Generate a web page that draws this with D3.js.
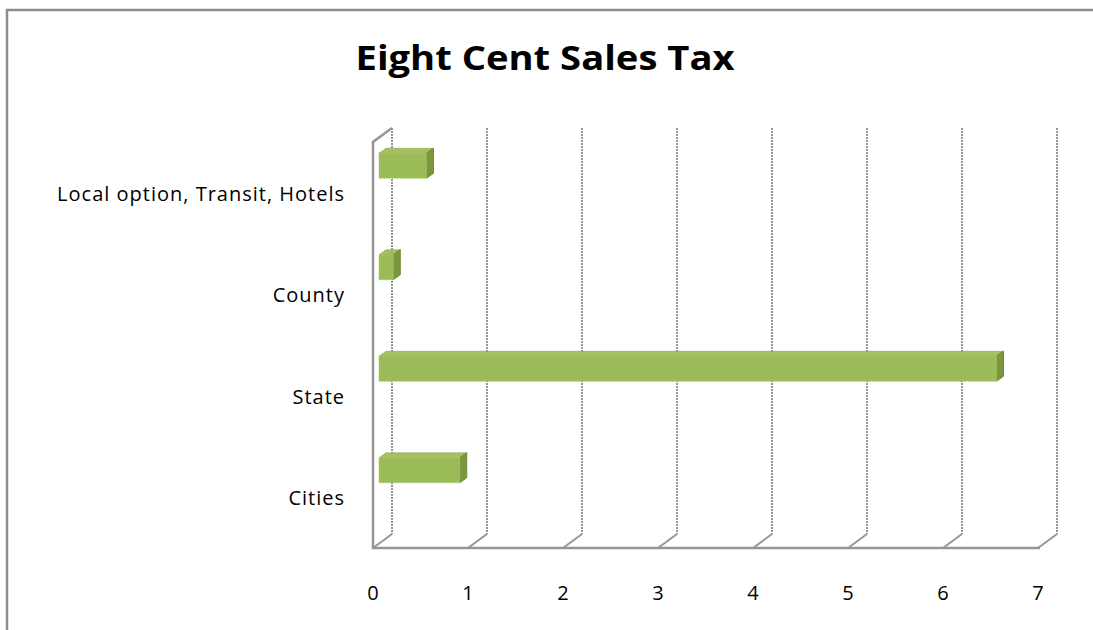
<!DOCTYPE html>
<html>
<head>
<meta charset="utf-8">
<script src="https://cdn.jsdelivr.net/npm/d3@7"></script>
<style>
  body { margin: 0; background: #fff; }
  text { font-family: "Open Sans", Lato, sans-serif; fill: #000; }
</style>
</head>
<body>
<svg id="chart" width="1093" height="630"></svg>
<script>
// data, top to bottom as drawn
var categories = ["Local option, Transit, Hotels", "County", "State", "Cities"];
var values = [0.5, 0.15, 6.5, 0.85];
var ticks = [0, 1, 2, 3, 4, 5, 6, 7];
var title = "Eight Cent Sales Tax";

var svg = d3.select("#chart");

// front plane of the plot
var plotLeft = 373, plotRight = 1038, plotTop = 142, plotBottom = 548;
// depth of the 3d floor / walls
var dx = 19, dy = -14;

var x = d3.scaleLinear().domain([0, 7]).range([plotLeft, plotRight]);
var y = d3.scaleBand().domain(categories).range([plotTop, plotBottom]);

var gray = "#969696";

// outer chart border
svg.append("path")
    .attr("d", "M7,640 L7,10 L1100,10")
    .attr("fill", "none")
    .attr("stroke", "#8e8e8e")
    .attr("stroke-width", 2.5);

// title
svg.append("text")
    .attr("x", 545)
    .attr("y", 70)
    .attr("text-anchor", "middle")
    .attr("textLength", 379)
    .attr("lengthAdjust", "spacingAndGlyphs")
    .style("font-size", "34px")
    .style("font-weight", "bold")
    .text(title);

// back wall gridlines
svg.selectAll(".grid")
    .data(ticks)
  .enter().append("line")
    .attr("class", "grid")
    .attr("x1", function(d) { return x(d) + dx; })
    .attr("x2", function(d) { return x(d) + dx; })
    .attr("y1", plotTop + dy)
    .attr("y2", plotBottom + dy)
    .attr("stroke", gray)
    .attr("stroke-width", 2)
    .attr("stroke-dasharray", "2,1");

// floor diagonals
svg.selectAll(".floor")
    .data(ticks)
  .enter().append("line")
    .attr("class", "floor")
    .attr("x1", function(d) { return x(d); })
    .attr("x2", function(d) { return x(d) + dx; })
    .attr("y1", plotBottom)
    .attr("y2", plotBottom + dy)
    .attr("stroke", gray)
    .attr("stroke-width", 2);

// front floor edge and left wall
svg.append("path")
    .attr("d", "M" + (plotLeft + dx) + "," + (plotTop + dy) + " L" + plotLeft + "," + plotTop +
               " L" + plotLeft + "," + plotBottom + " L" + (plotRight + 2) + "," + plotBottom)
    .attr("fill", "none")
    .attr("stroke", gray)
    .attr("stroke-width", 2.5);

// bars (3d boxes)
var bx = 6;               // bar front plane offset
var ddx = 7, ddy = -5;    // bar depth
var bh = 25;              // bar height
var lift = -27;           // bars sit above the label centre

var bars = svg.selectAll(".bar")
    .data(categories)
  .enter().append("g")
    .attr("class", "bar");

bars.each(function(c, i) {
    var g = d3.select(this);
    var x0 = x(0) + bx, x1 = x(values[i]) + bx;
    var yc = y(c) + y.bandwidth() / 2 + lift;
    var y0 = yc - bh / 2, y1 = yc + bh / 2;
    // top face
    g.append("path")
        .attr("d", "M" + x0 + "," + y0 + " L" + (x0 + ddx) + "," + (y0 + ddy) +
                   " L" + (x1 + ddx) + "," + (y0 + ddy) + " L" + x1 + "," + y0 + "Z")
        .attr("fill", "#a3c161")
        .attr("stroke", "#7f9b45")
        .attr("stroke-width", 1)
        .attr("stroke-dasharray", "1,1");
    // side face
    g.append("path")
        .attr("d", "M" + x1 + "," + y0 + " L" + (x1 + ddx) + "," + (y0 + ddy) +
                   " L" + (x1 + ddx) + "," + (y1 + ddy) + " L" + x1 + "," + y1 + "Z")
        .attr("fill", "#7b963f")
        .attr("stroke", "#6f8a38")
        .attr("stroke-width", 1);
    // front face
    g.append("rect")
        .attr("x", x0)
        .attr("y", y0)
        .attr("width", x1 - x0)
        .attr("height", bh)
        .attr("fill", "#9bbb59")
        .attr("stroke", "#a9c96a")
        .attr("stroke-width", 1)
        .attr("stroke-dasharray", "1,1");
});

// category labels
svg.selectAll(".cat")
    .data(categories)
  .enter().append("text")
    .attr("class", "cat")
    .attr("x", 345)
    .attr("y", function(d) { return y(d) + y.bandwidth() / 2 + 8; })
    .attr("text-anchor", "end")
    .style("font-size", "20px")
    .style("letter-spacing", "1px")
    .text(function(d) { return d; });

// value axis labels
svg.selectAll(".tick")
    .data(ticks)
  .enter().append("text")
    .attr("class", "tick")
    .attr("x", function(d) { return x(d); })
    .attr("y", 600)
    .attr("text-anchor", "middle")
    .style("font-size", "20px")
    .text(function(d) { return d; });
</script>
</body>
</html>
